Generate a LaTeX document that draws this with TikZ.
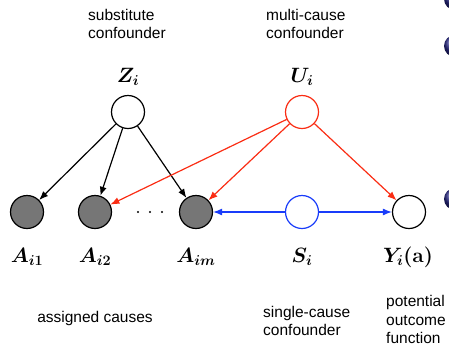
\documentclass[tikz,border=0pt]{standalone}
\usepackage{amsmath}
\usepackage{bm}
\usepackage[no-math]{fontspec}
\setmainfont{Liberation Sans}
\usetikzlibrary{arrows.meta}
\definecolor{cred}{RGB}{250,45,20}
\definecolor{cblue}{RGB}{25,60,250}
\definecolor{cgray}{RGB}{118,118,118}
\definecolor{cbullet}{RGB}{40,40,130}
\begin{document}
\begin{tikzpicture}[x=1pt,y=-1pt,
  var/.style={circle,draw=black,line width=1.2pt,minimum size=33pt,inner sep=0pt,fill=white},
  obs/.style={var,fill=cgray},
  lab/.style={font=\fontsize{21.5}{25}\selectfont},
  txt/.style={font=\fontsize{15.5}{18}\selectfont,align=center,inner sep=0pt},
  arr/.style={line width=1.2pt,-{Latex[length=9pt,width=7pt]}},
  bullet/.style={shading=ball,ball color=cbullet}]
\useasboundingbox (0,0) rectangle (449,346);
\begin{scope}
\clip (0,0) rectangle (449,346);
\shade[bullet] (455,-1) circle (11);
\shade[bullet] (455,46) circle (11);
\shade[bullet] (455,199) circle (11);
\end{scope}
% nodes
\node[var] (Z) at (128,112) {};
\node[var,draw=cred] (U) at (302,112) {};
\node[obs] (A1) at (27,212) {};
\node[obs] (A2) at (95,212) {};
\node[obs] (Am) at (196,212) {};
\node[var,draw=cblue] (S) at (302,212) {};
\node[var] (Y) at (409,212) {};
\node[inner sep=0pt,minimum size=30pt] (dots) at (150,212) {};
\fill (138,212) circle (1.1) (150,212) circle (1.1) (162,212) circle (1.1);
% labels
\node[lab] (Zl) at (128,77) {$\bm{Z_i}$};
\node[lab] (Ul) at (302,77) {$\bm{U_i}$};
\node[lab] (A1l) at (27,257) {$\bm{A_{i1}}$};
\node[lab] (A2l) at (95,257) {$\bm{A_{i2}}$};
\node[lab] (Aml) at (196,257) {$\bm{A_{im}}$};
\node[lab] (Sl) at (302,257) {$\bm{S_i}$};
\node[lab] (Yl) at (408,257) {$\bm{Y_i(\mathbf{a})}$};
% texts
\node[txt,align=left,anchor=west] (t1) at (88,24) {substitute\\confounder};
\node[txt,align=left,anchor=west] (t2) at (266,24) {multi-cause\\confounder};
\node[txt] (t3) at (95,318) {assigned causes};
\node[txt,align=left,anchor=west] (t4) at (263,321) {single-cause\\confounder};
\node[txt,align=left,anchor=west,font=\fontsize{15.5}{18.3}\selectfont] (t5) at (386,319.5) {potential\\outcome\\function};
% edges
\draw[arr] (Z) -- (A1);
\draw[arr] (Z) -- (A2);
\draw[arr] (Z) -- (Am);
\draw[arr,cred] (U) -- (A2);
\draw[arr,cred] (U) -- (Am);
\draw[arr,cred] (U) -- (Y);
\draw[arr,cblue] (S) -- (Am);
\draw[arr,cblue] (S) -- (Y);
\end{tikzpicture}
\end{document}
